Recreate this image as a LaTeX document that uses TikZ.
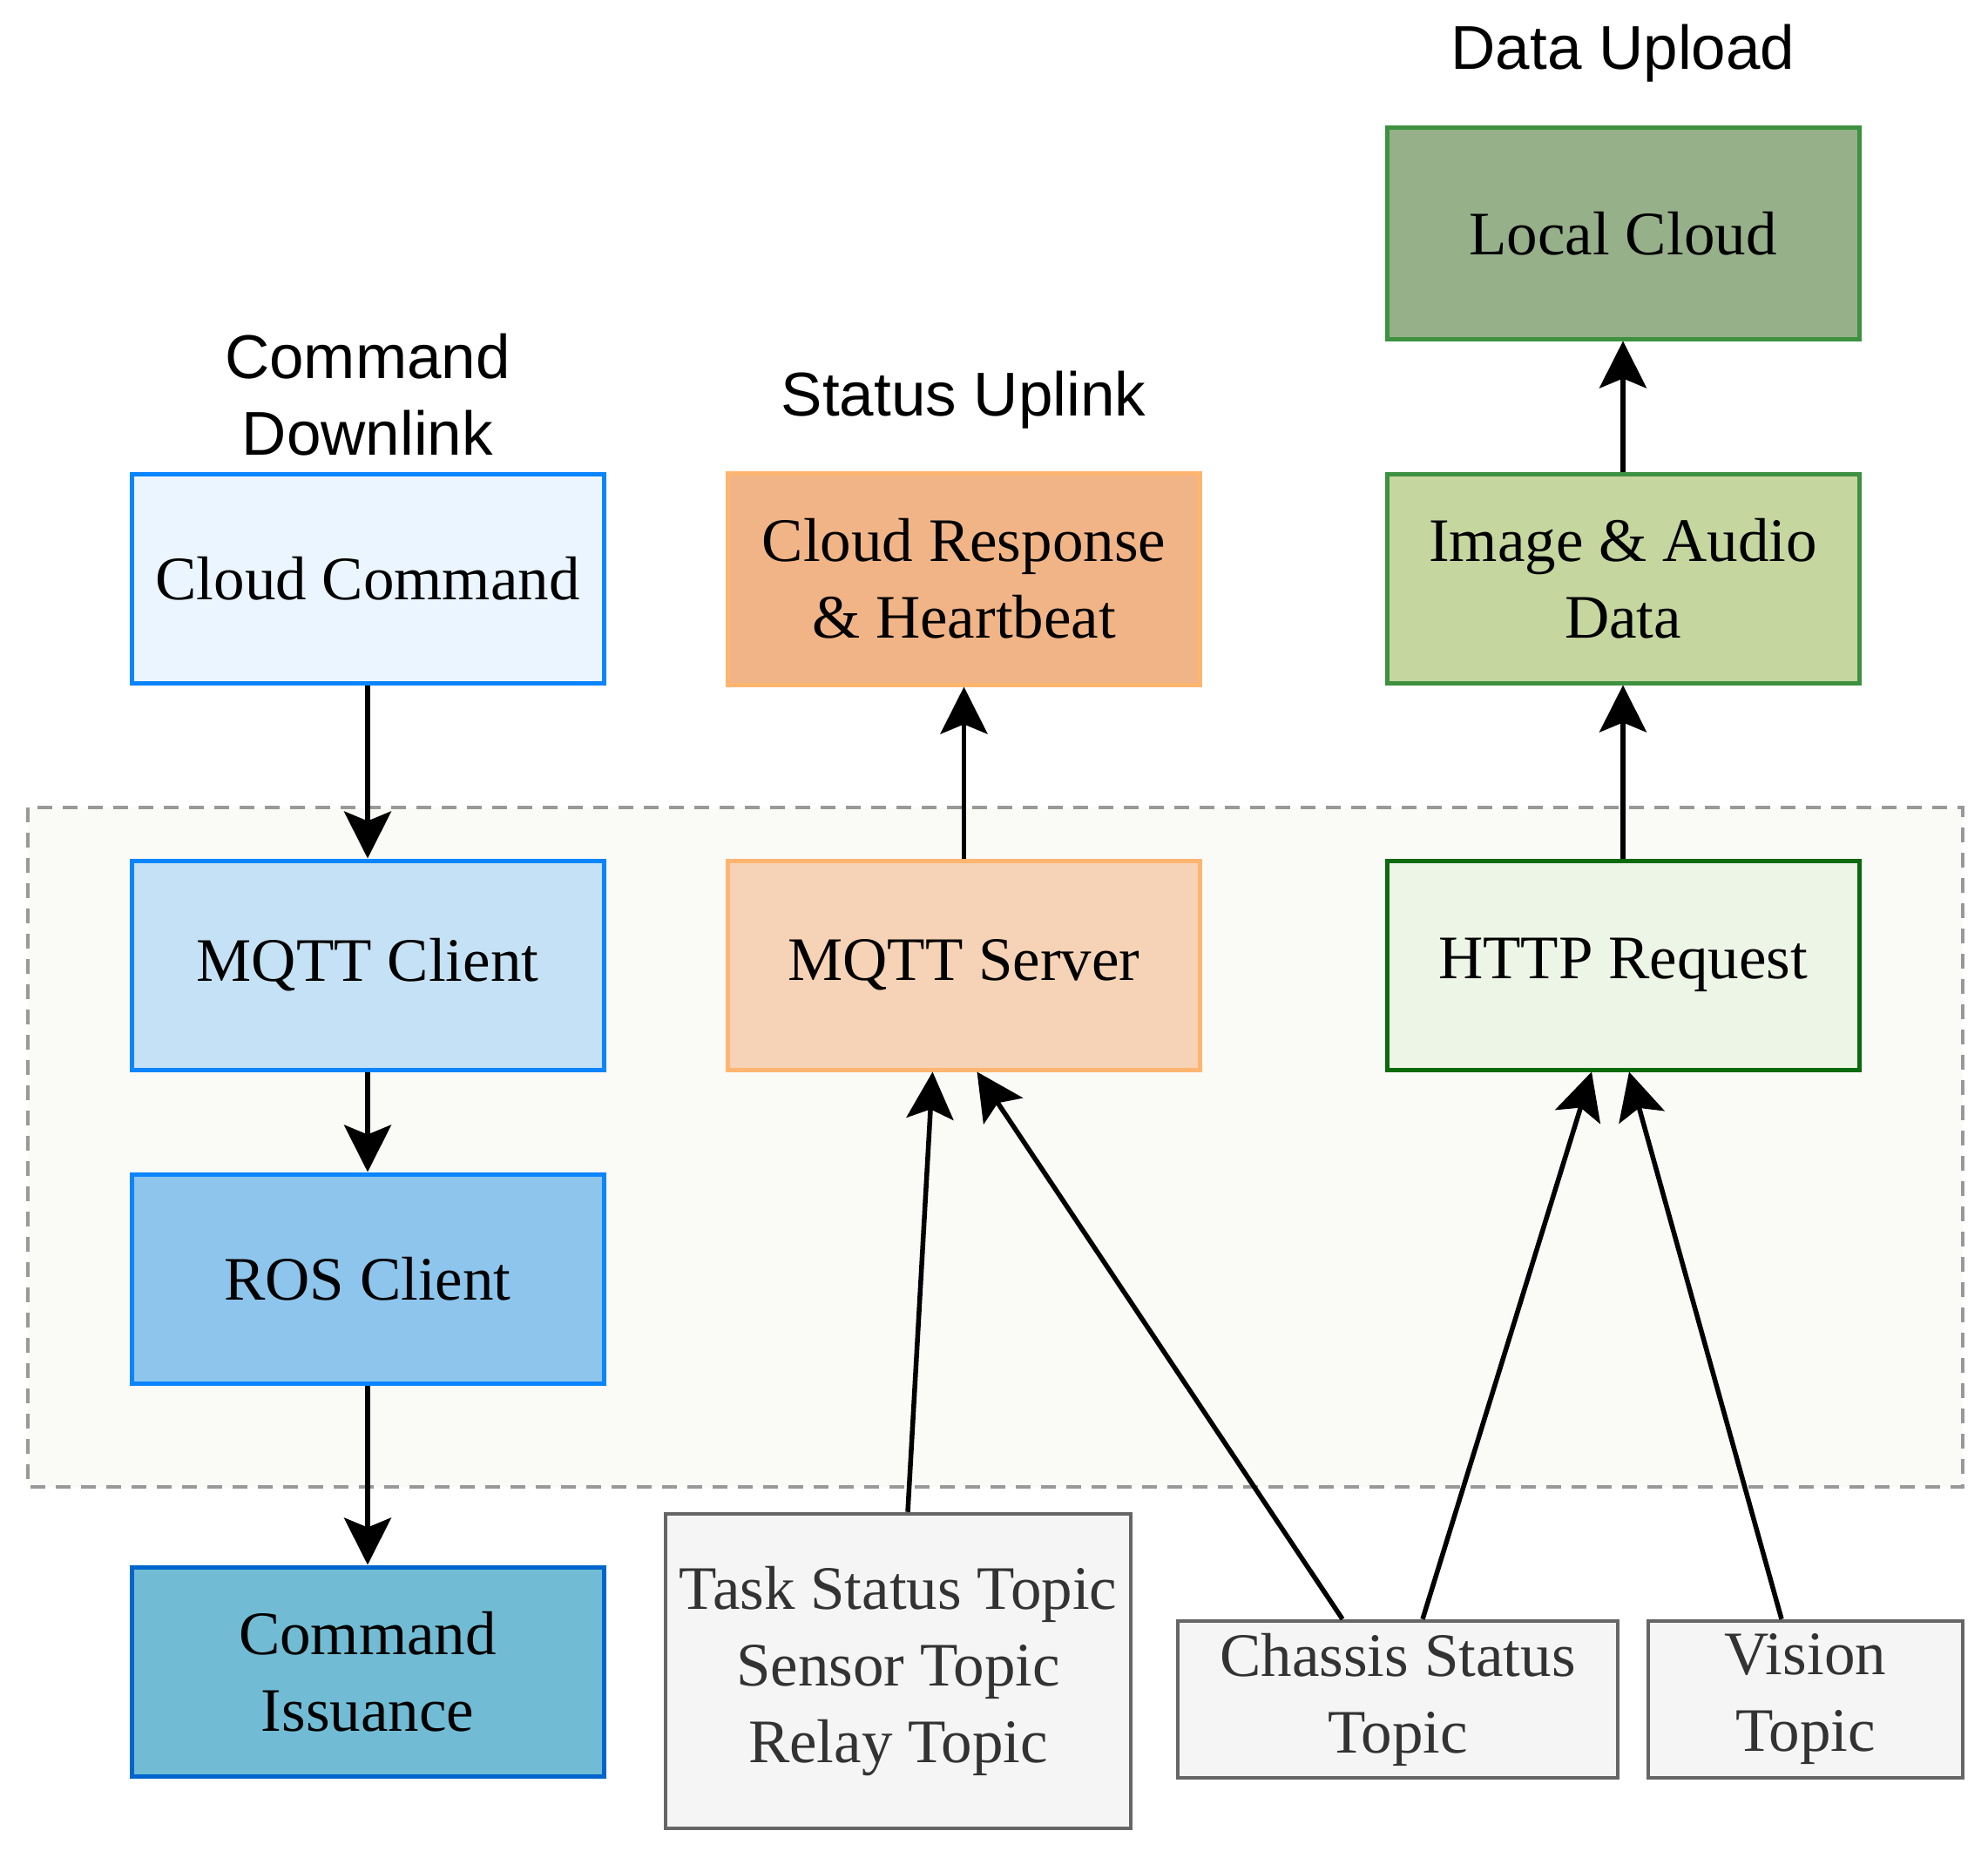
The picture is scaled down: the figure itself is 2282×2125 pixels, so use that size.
\documentclass[tikz,border=0pt]{standalone}
\usepackage{fontspec}
\setmainfont{Liberation Serif}
\setsansfont{Liberation Sans}
\usetikzlibrary{arrows.meta,calc}
\definecolor{ccfill}{HTML}{EBF5FF}
\definecolor{ccdraw}{HTML}{0A84FF}
\definecolor{mcfill}{HTML}{C5E1F5}
\definecolor{rcfill}{HTML}{8EC5EC}
\definecolor{cifill}{HTML}{71BCD4}
\definecolor{cidraw}{HTML}{0066CC}
\definecolor{crfill}{HTML}{F1B486}
\definecolor{ordraw}{HTML}{FFB570}
\definecolor{msfill}{HTML}{F6D3B6}
\definecolor{lcfill}{HTML}{96B08A}
\definecolor{grdraw}{HTML}{3D9140}
\definecolor{iafill}{HTML}{C5D69F}
\definecolor{htfill}{HTML}{EDF5E6}
\definecolor{htdraw}{HTML}{0B6A0B}
\definecolor{tpfill}{HTML}{F5F5F5}
\definecolor{tpdraw}{HTML}{666666}
\definecolor{tptext}{HTML}{333333}
\definecolor{regfill}{HTML}{FAFAF6}
\definecolor{regdraw}{HTML}{999999}
\tikzset{
  box/.style={draw, line width=2.5pt, align=center, inner sep=0pt,
    minimum width=271pt, minimum height=120pt,
    font=\fontsize{35.5}{44}\selectfont},
  topic/.style={box, line width=2.25pt, fill=tpfill, draw=tpdraw, text=tptext},
  title/.style={font=\sffamily\fontsize{35.5}{44}\selectfont, align=center, inner sep=0pt},
  conn/.style={line width=2.75pt, -{Stealth[length=27pt,width=27pt,inset=5.5pt]}}
}
\begin{document}
\begin{tikzpicture}[x=0.5pt,y=-0.5pt]
\useasboundingbox (0,0) rectangle (2282,2125);
% region
\draw[fill=regfill, draw=regdraw, line width=1.75pt, dash pattern=on 8.5pt off 6pt] (32,927) rectangle (2253,1707);
% titles
\node[title] (t1) at (422,453) {Command\\Downlink};
\node[title, anchor=base] (t2) at (1106,477) {Status Uplink};
\node[title, anchor=base] (t3) at (1863,80) {Data Upload};
% left column
\node[box, fill=ccfill, draw=ccdraw] (cc) at (422,664) {Cloud Command};
\node[box, fill=mcfill, draw=ccdraw] (mc) at (422,1108) {MQTT Client};
\node[box, fill=rcfill, draw=ccdraw] (rc) at (422,1468) {ROS Client};
\node[box, fill=cifill, draw=cidraw] (ci) at (422,1919) {Command\\Issuance};
% middle column
\node[box, fill=crfill, draw=ordraw, minimum height=121.5pt] (cr) at (1106.5,664.5) {Cloud Response\\\& Heartbeat};
\node[box, fill=msfill, draw=ordraw] (ms) at (1106.5,1108) {MQTT Server};
% right column
\node[box, fill=lcfill, draw=grdraw, minimum height=121pt] (lc) at (1863,268) {Local Cloud};
\node[box, fill=iafill, draw=grdraw] (ia) at (1863,664) {Image \& Audio\\Data};
\node[box, fill=htfill, draw=htdraw] (ht) at (1863,1108) {HTTP Request};
% topics
\node[topic, minimum width=267pt, minimum height=180.5pt] (ts) at (1031,1918.5) {Task Status Topic\\Sensor Topic\\Relay Topic};
\node[topic, minimum width=252.5pt, minimum height=90pt] (cs) at (1604.5,1951) {Chassis Status\\Topic};
\node[topic, minimum width=180.5pt, minimum height=90pt] (vt) at (2072.5,1951) {Vision\\Topic};
% connectors
\draw[conn] (cc) -- (mc);
\draw[conn] (mc) -- (rc);
\draw[conn] (rc) -- (ci);
\draw[conn] (ms) -- (cr);
\draw[conn] (ht) -- (ia);
\draw[conn] (ia) -- (lc);
\draw[conn] ([xshift=5.5pt]ts.north) -- ([xshift=-18pt]ms.south);
\draw[conn] ([xshift=-31.75pt]cs.north) -- ([xshift=7.5pt]ms.south);
\draw[conn] ([xshift=14.25pt]cs.north) -- ([xshift=-18pt]ht.south);
\draw[conn] ([xshift=-13.75pt]vt.north) -- ([xshift=3.5pt]ht.south);
\end{tikzpicture}
\end{document}
